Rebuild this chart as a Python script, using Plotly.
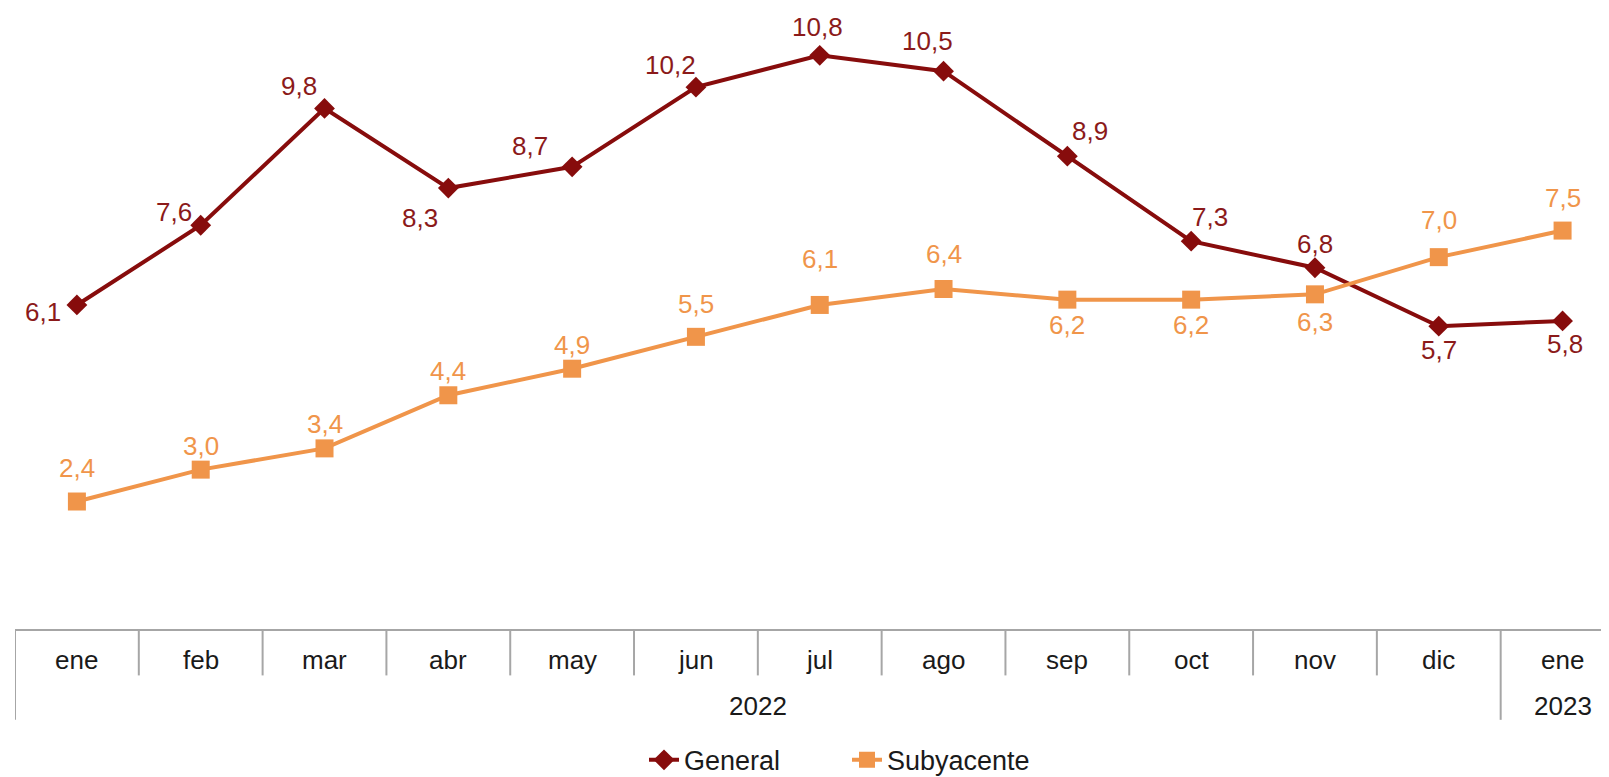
import plotly.graph_objects as go

months = ["ene", "feb", "mar", "abr", "may", "jun", "jul", "ago", "sep", "oct", "nov", "dic", "ene"]
years = ["2022", "2023"]
year_spans = [(0, 11), (12, 12)]
general = [6.1, 7.6, 9.8, 8.3, 8.7, 10.2, 10.8, 10.5, 8.9, 7.3, 6.8, 5.7, 5.8]
subyacente = [2.4, 3.0, 3.4, 4.4, 4.9, 5.5, 6.1, 6.4, 6.2, 6.2, 6.3, 7.0, 7.5]

# label offsets in pixels (dx right, dy down) -- presentation only
gen_off = [(-34, 7), (-27, -13), (-26, -22), (-28, 30), (-42, -21), (-25, -22), (-2, -28),
           (-16, -30), (23, -25), (19, -24), (0, -24), (0, 24), (2, 23)]
sub_off = [(0, -34), (0, -24), (0, -24), (0, -24), (0, -24), (0, -33), (0, -46),
           (0, -35), (0, 25), (0, 25), (0, 28), (0, -37), (0, -33)]

RED = "#870c0c"
ORANGE = "#f0954a"
GRID = "#a6a6a6"
FONT = "Arial, Liberation Sans, sans-serif"

def fmt(v):
    return f"{v:.1f}".replace(".", ",")

x = list(range(len(months)))
fig = go.Figure()
fig.add_trace(go.Scatter(
    x=x, y=general, name="General", mode="lines+markers",
    line=dict(color=RED, width=4),
    marker=dict(symbol="diamond", size=16, color=RED),
    cliponaxis=False,
))
fig.add_trace(go.Scatter(
    x=x, y=subyacente, name="Subyacente", mode="lines+markers",
    line=dict(color=ORANGE, width=4),
    marker=dict(symbol="square", size=18, color=ORANGE),
    cliponaxis=False,
))

H = 777
PLOT_H = 629
shapes = []
annotations = []
for xi, v, (dx, dy) in zip(x, general, gen_off):
    annotations.append(dict(x=xi, y=v, xref="x", yref="y", text=fmt(v), showarrow=False,
                            xshift=dx, yshift=-dy, xanchor="center", yanchor="middle",
                            font=dict(size=26, color="#8b1a1a", family=FONT)))
for xi, v, (dx, dy) in zip(x, subyacente, sub_off):
    annotations.append(dict(x=xi, y=v, xref="x", yref="y", text=fmt(v), showarrow=False,
                            xshift=dx, yshift=-dy, xanchor="center", yanchor="middle",
                            font=dict(size=26, color=ORANGE, family=FONT)))

year_bounds = set()
for s, e in year_spans:
    year_bounds.add(s - 0.5)
    year_bounds.add(e + 0.5)
for k in range(len(months) + 1):
    xb = k - 0.5
    depth = 92 if xb in year_bounds else 47
    shapes.append(dict(type="line", xref="x", yref="paper", x0=xb, x1=xb,
                       y0=0, y1=-depth / PLOT_H, line=dict(color=GRID, width=2)))
for i, m in enumerate(months):
    annotations.append(dict(x=i, y=-31 / PLOT_H, xref="x", yref="paper", text=m,
                            showarrow=False, yanchor="middle",
                            font=dict(size=26, color="#1a1a1a", family=FONT)))
for yr, (s, e) in zip(years, year_spans):
    annotations.append(dict(x=(s + e) / 2, y=-78 / PLOT_H, xref="x", yref="paper", text=yr,
                            showarrow=False, yanchor="middle",
                            font=dict(size=26, color="#1a1a1a", family=FONT)))

fig.update_layout(
    width=1601, height=H,
    margin=dict(l=7, r=0, t=0, b=H - PLOT_H),
    paper_bgcolor="white", plot_bgcolor="white",
    showlegend=True,
    legend=dict(orientation="h", x=(636 - 7) / 1594, xanchor="left",
                y=-133 / PLOT_H, yanchor="middle",
                font=dict(size=27, color="#1a1a1a", family=FONT),
                entrywidth=158, entrywidthmode="pixels",
                bgcolor="rgba(0,0,0,0)"),
    xaxis=dict(range=[-0.5, 12.375], showgrid=False, zeroline=False, showticklabels=False,
               showline=True, linecolor=GRID, linewidth=2, ticks=""),
    yaxis=dict(range=[0, 11.69], showgrid=False, zeroline=False, showticklabels=False,
               showline=False, ticks=""),
    shapes=shapes, annotations=annotations,
)
fig.write_html("out.html")
